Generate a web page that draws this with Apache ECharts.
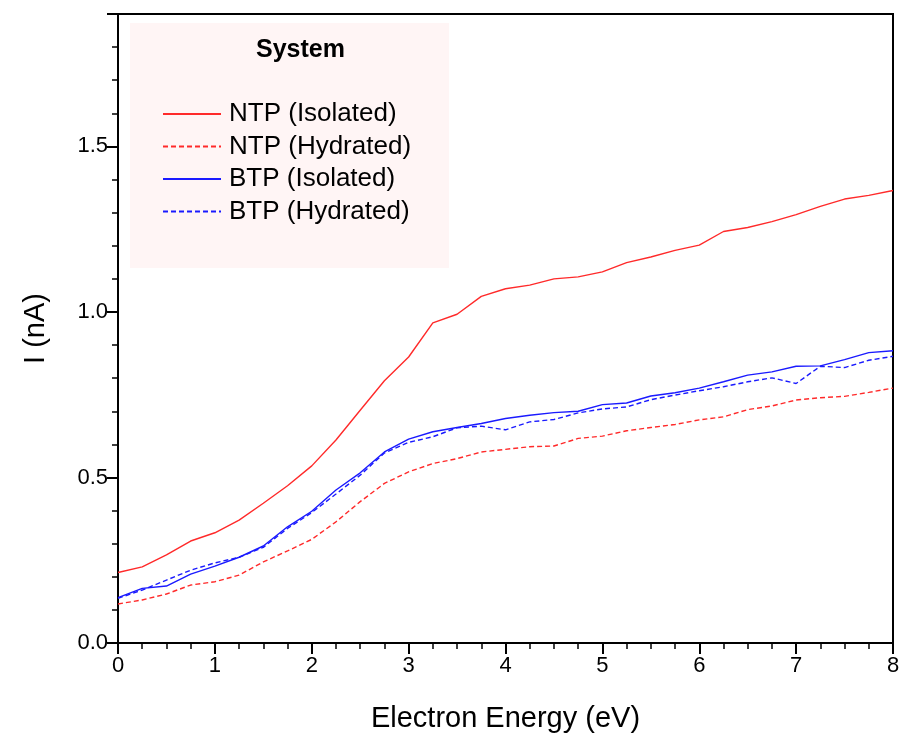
<!DOCTYPE html>
<html>
<head>
<meta charset="utf-8">
<title>Electron Energy vs I</title>
<script src="https://cdn.jsdelivr.net/npm/echarts@6/dist/echarts.min.js"></script>
<style>
  html, body { margin: 0; padding: 0; background: #fff; }
  #chart { width: 901px; height: 734px; }
</style>
</head>
<body>
<div id="chart"></div>
<script>
// 横坐标: 电子能量 0 ~ 8 eV, 步长 0.25
const energy = [0, 0.25, 0.5, 0.75, 1, 1.25, 1.5, 1.75, 2, 2.25, 2.5, 2.75, 3, 3.25, 3.5, 3.75,
  4, 4.25, 4.5, 4.75, 5, 5.25, 5.5, 5.75, 6, 6.25, 6.5, 6.75, 7, 7.25, 7.5, 7.75, 8];

// 各体系电流 (nA)
const ntpIsolated = [0.213, 0.230, 0.266, 0.308, 0.333, 0.371, 0.422, 0.475, 0.535, 0.613, 0.703,
  0.792, 0.864, 0.967, 0.993, 1.047, 1.070, 1.081, 1.100, 1.106, 1.121, 1.149, 1.166, 1.186,
  1.202, 1.243, 1.255, 1.273, 1.294, 1.319, 1.341, 1.352, 1.367];
const ntpHydrated = [0.118, 0.130, 0.148, 0.175, 0.185, 0.205, 0.245, 0.278, 0.313, 0.366, 0.427,
  0.482, 0.517, 0.542, 0.557, 0.577, 0.585, 0.593, 0.595, 0.618, 0.625, 0.641, 0.651, 0.660,
  0.674, 0.683, 0.705, 0.716, 0.734, 0.741, 0.745, 0.757, 0.770];
const btpIsolated = [0.137, 0.165, 0.172, 0.208, 0.232, 0.259, 0.293, 0.351, 0.398, 0.462, 0.514,
  0.577, 0.616, 0.638, 0.651, 0.663, 0.678, 0.688, 0.696, 0.700, 0.720, 0.725, 0.746, 0.756,
  0.770, 0.789, 0.809, 0.819, 0.836, 0.837, 0.856, 0.877, 0.883];
const btpHydrated = [0.135, 0.160, 0.190, 0.220, 0.242, 0.259, 0.289, 0.346, 0.394, 0.450, 0.507,
  0.574, 0.606, 0.623, 0.650, 0.655, 0.644, 0.668, 0.675, 0.695, 0.707, 0.713, 0.735, 0.749,
  0.762, 0.774, 0.789, 0.801, 0.784, 0.836, 0.832, 0.854, 0.866];

const seriesNames = ['NTP (Isolated)', 'NTP (Hydrated)', 'BTP (Isolated)', 'BTP (Hydrated)'];

const FONT = 'Liberation Sans, Arial, sans-serif';
const RED = '#ff2a2a';
const BLUE = '#1a1aff';

function pairs(values) {
  return energy.map((x, i) => [x, values[i]]);
}

function lineSeries(name, values, color, dashed) {
  return {
    name: name,
    type: 'line',
    symbol: 'none',
    data: pairs(values),
    lineStyle: { color: color, width: 1.4, type: dashed ? [5, 3] : 'solid' },
    itemStyle: { color: color },
    animation: false
  };
}

const chart = echarts.init(document.getElementById('chart'));

const option = {
  backgroundColor: '#fff',
  textStyle: { fontFamily: FONT },
  grid: {
    left: 118, right: 8, top: 14, bottom: 91,
    outerBoundsMode: 'none',
    containLabel: false,
    show: true, borderColor: '#000', borderWidth: 2, backgroundColor: 'transparent'
  },
  graphic: [
    {
      type: 'rect',
      left: 130, top: 23,
      shape: { width: 319, height: 245 },
      style: { fill: '#fff5f5' },
      z: 1
    },
    {
      type: 'text',
      left: 256, top: 38,
      style: { text: 'System', font: 'bold 25px ' + FONT, fill: '#000' },
      z: 2
    }
  ],
  legend: {
    orient: 'vertical',
    left: 157, top: 96,
    itemWidth: 58, itemHeight: 14,
    itemGap: 6.5,
    data: seriesNames,
    itemStyle: { opacity: 0 },
    textStyle: { fontSize: 26, color: '#000', fontFamily: FONT, padding: [0, 0, 0, 3] },
    z: 3
  },
  xAxis: {
    type: 'value',
    min: 0, max: 8, interval: 1,
    name: 'Electron Energy (eV)',
    nameLocation: 'middle',
    nameGap: 61,
    nameTextStyle: { fontSize: 29, color: '#000', fontFamily: FONT },
    axisLine: { lineStyle: { color: '#000', width: 2 } },
    axisTick: { inside: false, length: 11, lineStyle: { color: '#000', width: 2 } },
    minorTick: { show: true, splitNumber: 4, length: 6, lineStyle: { color: '#000', width: 1.5 } },
    axisLabel: { fontSize: 22, color: '#000', margin: 12, fontFamily: FONT },
    splitLine: { show: false }
  },
  yAxis: {
    type: 'value',
    min: 0, max: 1.9, interval: 0.5,
    name: 'I (nA)',
    nameLocation: 'middle',
    nameGap: 68,
    nameTextStyle: { fontSize: 29, color: '#000', fontFamily: FONT },
    axisLine: { lineStyle: { color: '#000', width: 2 } },
    axisTick: { inside: false, length: 11, lineStyle: { color: '#000', width: 2 } },
    minorTick: { show: true, splitNumber: 5, length: 6, lineStyle: { color: '#000', width: 1.5 } },
    axisLabel: {
      fontSize: 22, color: '#000', margin: 10, fontFamily: FONT,
      formatter: v => v.toFixed(1),
      showMaxLabel: false
    },
    splitLine: { show: false }
  },
  series: [
    lineSeries(seriesNames[0], ntpIsolated, RED, false),
    lineSeries(seriesNames[1], ntpHydrated, RED, true),
    lineSeries(seriesNames[2], btpIsolated, BLUE, false),
    lineSeries(seriesNames[3], btpHydrated, BLUE, true)
  ]
};

chart.setOption(option);
</script>
</body>
</html>
